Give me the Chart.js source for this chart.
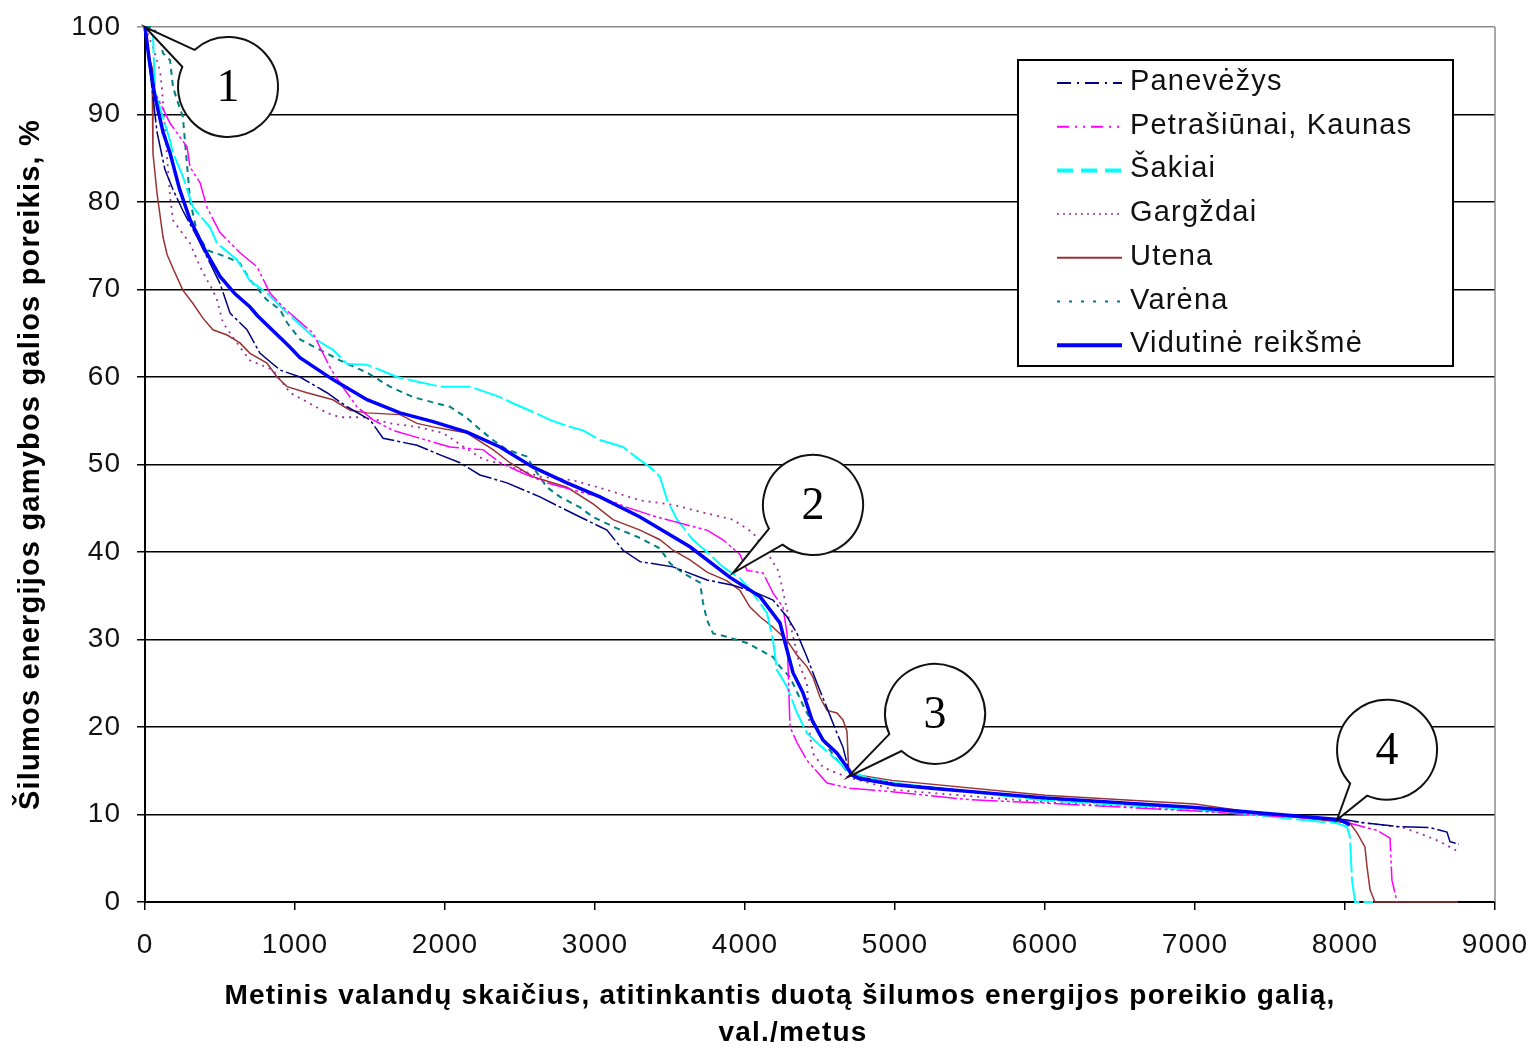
<!DOCTYPE html>
<html>
<head>
<meta charset="utf-8">
<script src="https://cdn.jsdelivr.net/npm/chart.js@4.4.1/dist/chart.umd.min.js"></script>
<style>
  html, body { margin: 0; padding: 0; background: #fff; }
  #wrap { width: 1535px; height: 1048px; }
</style>
</head>
<body>
<div id="wrap"><canvas id="chart"></canvas></div>
<script>
// ===== DATA: [valandos per metus, % nuo maksimalios galios] =====
var panevezys = [[0,100],[40,94],[80,88],[133,83.7],[187,81.4],[253,79],[347,76],[500,70.7],[567,67.3],[680,65.4],[767,62.7],[900,60.8],[1033,60],[1213,58.2],[1347,56.6],[1500,55.1],[1587,53],[1813,52.2],[1967,51.1],[2100,50.2],[2233,48.8],[2413,47.9],[2633,46.3],[2853,44.4],[3080,42.5],[3187,40.2],[3300,38.9],[3520,38.3],[3747,36.8],[3920,36.2],[4080,35.3],[4187,34.5],[4280,32.6],[4347,30.7],[4413,28],[4480,25],[4553,21.9],[4613,19.3],[4653,17.7],[4687,15.4],[4720,14.4],[5000,13.5],[6000,11.8],[7000,10.8],[8000,9.4],[8147,9],[8367,8.6],[8567,8.5],[8680,8],[8700,6.9],[8760,6.6]];
var petrasiunai = [[0,100],[53,93],[167,89],[280,86.3],[300,84],[367,82.2],[413,79.4],[500,76.5],[633,74.2],[747,72.6],[833,69.6],[920,68],[1120,65],[1233,61.1],[1300,59.3],[1413,56.6],[1520,55.1],[1653,53.9],[1813,53.1],[2033,52],[2253,51.7],[2367,50.2],[2520,49],[2680,47.9],[2853,47.1],[3033,46.3],[3213,45.1],[3413,44],[3567,43.3],[3747,42.5],[3853,41.4],[3967,39.7],[4013,37.9],[4120,37.6],[4187,35.3],[4253,33.7],[4280,30.7],[4287,26.9],[4300,20],[4347,18.2],[4413,16.2],[4547,13.6],[4700,13],[4980,12.6],[5493,11.7],[6000,11.3],[7000,10.4],[8000,9.3],[8033,9],[8213,8.2],[8300,7.3],[8313,2.5],[8347,0]];
var sakiai = [[0,100],[53,99.3],[67,92.5],[120,89.7],[167,87],[187,85.6],[253,82.9],[320,79.4],[433,77.1],[480,75.3],[613,73.4],[700,71],[813,69.6],[947,67.3],[1033,66],[1147,64.2],[1253,63.1],[1347,61.5],[1480,61.4],[1567,60.8],[1680,60],[1833,59.4],[1967,58.9],[2167,58.9],[2367,57.7],[2453,57],[2587,56],[2700,55.1],[2813,54.4],[2920,53.9],[3033,52.8],[3187,52],[3300,50.5],[3367,49.7],[3433,48.6],[3480,46],[3547,43.7],[3653,41.4],[3747,40],[3853,38.3],[3967,37],[4053,35.3],[4147,33],[4187,29.9],[4213,26.5],[4280,24.6],[4347,21.6],[4413,19.3],[4480,18.2],[4587,16.6],[4680,15.1],[4813,14.2],[5000,13.6],[6000,11.6],[7000,10.6],[7947,9],[8013,8.6],[8033,7.4],[8047,2.5],[8067,0],[8187,0]];
var gargzdai = [[0,100],[53,97.7],[100,95],[113,93],[167,80.6],[187,77.9],[233,76.8],[300,75.3],[367,72.6],[413,71.1],[453,69.9],[480,68.8],[520,66.2],[633,63.4],[700,61.9],[853,60.8],[967,58.2],[1053,57.4],[1213,55.9],[1300,55.4],[1480,55.4],[1633,54.7],[1813,54.3],[1987,53.6],[2100,52.3],[2253,50.6],[2413,49.9],[2633,48.6],[2853,48.2],[3080,47.1],[3300,45.9],[3520,45.4],[3747,44.4],[3920,43.7],[4053,42.2],[4167,39.4],[4220,37.9],[4247,36],[4280,33.4],[4320,30.4],[4367,26.9],[4413,25],[4433,19],[4453,17],[4520,15.4],[4587,14.9],[4680,14.3],[5000,12.8],[6000,11.4],[7000,10.5],[8000,9.3],[8100,9.1],[8253,8.8],[8387,8.5],[8520,7.7],[8633,6.9],[8740,5.9]];
var utena = [[0,100],[20,97],[47,95.4],[53,85.6],[80,81],[100,78.5],[120,76],[147,74],[187,72.4],[253,69.9],[320,68.4],[387,66.7],[453,65.4],[547,64.8],[633,63.9],[700,62.7],[813,61.6],[880,60],[947,58.9],[1080,58.2],[1253,57.4],[1367,56.2],[1480,55.9],[1700,55.7],[1813,54.7],[1920,54.3],[2147,53.6],[2320,51.7],[2433,50.2],[2587,48.6],[2813,47.4],[2987,45.5],[3120,43.7],[3300,42.5],[3433,41.4],[3520,40.2],[3633,39.1],[3747,37.7],[3880,36.7],[3967,35.6],[4033,33.7],[4100,32.6],[4187,31.4],[4280,29.9],[4347,28.2],[4413,26.9],[4453,25.7],[4500,23.4],[4547,21.9],[4613,21.6],[4653,20.8],[4680,19.5],[4690,15.4],[4720,14.6],[4980,13.9],[6000,12.2],[7000,11.2],[7367,10.3],[8033,9],[8080,7.9],[8133,6.3],[8147,4],[8167,1.4],[8200,0],[8753,0]];
var varena = [[0,100],[53,100],[100,98.5],[120,97],[167,96.2],[187,93.1],[213,91.7],[253,89.7],[260,88.2],[287,82.9],[300,80.2],[347,76.5],[413,74.5],[547,73.7],[633,73],[700,71.1],[813,68.8],[900,67.7],[947,66.2],[1033,64.3],[1167,63.1],[1300,61.9],[1480,60.5],[1633,58.9],[1787,57.7],[1920,57.1],[2033,56.6],[2147,55.3],[2233,54],[2320,52.8],[2413,51.7],[2547,50.9],[2587,49.7],[2680,47.4],[2767,46.3],[2900,45.1],[2987,44],[3147,42.7],[3300,41.6],[3433,40.4],[3500,38.7],[3587,37.6],[3700,36.5],[3720,34.2],[3747,32.2],[3787,30.7],[3880,30.3],[4013,29.6],[4100,28.8],[4187,28],[4233,26.9],[4300,25.7],[4400,22],[4500,19],[4600,16.5],[4700,14.6],[5000,13.5],[6000,11.8],[7000,10.7],[8000,9.3]];
var vidutine = [[0,100],[30,96],[67,92],[120,88],[167,85.6],[230,81.5],[300,78],[400,74.5],[500,71.5],[600,69.5],[700,68],[750,67],[967,63.4],[1033,62.2],[1253,59.7],[1480,57.4],[1700,55.9],[1920,54.9],[2147,53.7],[2367,52],[2587,49.7],[2813,47.9],[3033,46.3],[3300,44],[3633,40.6],[3900,37.1],[4100,34.9],[4233,31.9],[4280,28.8],[4320,26.2],[4387,23.9],[4447,20.8],[4520,18.5],[4613,17],[4680,15.4],[4713,14.5],[4760,14.1],[5000,13.4],[5240,13],[6000,11.9],[7000,10.8],[7700,9.8],[7967,9.4],[8033,8.8]];

var seriesNames = ['Panevėžys', 'Petrašiūnai, Kaunas', 'Šakiai', 'Gargždai', 'Utena', 'Varėna', 'Vidutinė reikšmė'];
var calloutLabels = ['1', '2', '3', '4'];
var calloutTips = [[0, 100], [3920, 37.6], [4687, 14.3], [7947, 9.4]];

var xTitle = ['Metinis valandų skaičius, atitinkantis duotą šilumos energijos poreikio galią,', 'val./metus'];
var yTitle = 'Šilumos energijos gamybos galios poreikis, %';

// ===== STYLES =====
var FONT = '"Liberation Sans", Arial, sans-serif';
var styles = [
  { color: '#000080', width: 1.5, dash: [26, 3, 3, 3], legendDash: [14, 6, 2, 6], legendWidth: 2 },
  { color: '#ff00ff', width: 1.5, dash: [26, 3, 3, 3, 3, 3], legendDash: [12, 6, 2, 6, 2, 6], legendWidth: 2 },
  { color: '#00ffff', width: 2, dash: [30, 4], legendDash: [16, 8], legendWidth: 4 },
  { color: '#993399', width: 1.8, dash: [2, 5], legendDash: [2, 4], legendWidth: 1.5 },
  { color: '#993333', width: 1.5, dash: [], legendDash: [], legendWidth: 2 },
  { color: '#008080', width: 2, dash: [6, 5], legendDash: [3, 9], legendWidth: 2 },
  { color: '#0000ff', width: 3.5, dash: [], legendDash: [], legendWidth: 4 }
];
var seriesData = [panevezys, petrasiunai, sakiai, gargzdai, utena, varena, vidutine];

// callout bubble centre offset from its tip, px
var calloutOffsets = [[83, 60], [80, -68], [87, -63], [50, -70]];

function toXY(pairs) { return pairs.map(function(p) { return { x: p[0], y: p[1] }; }); }

var datasets = seriesData.map(function(d, i) {
  return {
    label: seriesNames[i], data: toXY(d),
    borderColor: styles[i].color, borderWidth: styles[i].width, borderDash: styles[i].dash,
    pointRadius: 0, fill: false, tension: 0, clip: 4, order: i === 6 ? 0 : 1
  };
});

var bubblePlugin = {
  id: 'bubbles',
  beforeDraw: function(chart) { chart.ctx.letterSpacing = '1px'; },
  beforeDatasetsDraw: function(chart) {
    var a = chart.chartArea, ctx = chart.ctx;
    ctx.save();
    ctx.strokeStyle = '#8c8c8c'; ctx.lineWidth = 1.5;
    ctx.beginPath(); ctx.moveTo(a.right, a.top); ctx.lineTo(a.right, a.bottom); ctx.stroke();
    ctx.restore();
  },
  afterDatasetsDraw: function(chart) {
    var ctx = chart.ctx, xs = chart.scales.x, ys = chart.scales.y;
    ctx.save();
    ctx.letterSpacing = '0px';
    calloutTips.forEach(function(t, i) {
      var tx = xs.getPixelForValue(t[0]), ty = ys.getPixelForValue(t[1]);
      var cx = tx + calloutOffsets[i][0], cy = ty + calloutOffsets[i][1], r = 50;
      var ang = Math.atan2(ty - cy, tx - cx), d = 0.21;
      ctx.beginPath();
      ctx.arc(cx, cy, r, ang + d, ang - d + Math.PI * 2);
      ctx.lineTo(tx, ty);
      ctx.closePath();
      ctx.fillStyle = '#fff'; ctx.fill();
      ctx.lineWidth = 2; ctx.strokeStyle = '#111'; ctx.stroke();
      ctx.fillStyle = '#000';
      ctx.font = '46px "Liberation Serif", "Times New Roman", serif';
      ctx.textAlign = 'center'; ctx.textBaseline = 'middle';
      ctx.fillText(calloutLabels[i], cx, cy + 2);
    });
    ctx.restore();
  },
  afterDraw: function(chart) {
    var ctx = chart.ctx, a = chart.chartArea;
    var bx = a.left + 873, by = a.top + 33, bw = 435, bh = 306;
    ctx.save();
    ctx.fillStyle = '#fff'; ctx.fillRect(bx, by, bw, bh);
    ctx.strokeStyle = '#000'; ctx.lineWidth = 2; ctx.setLineDash([]);
    ctx.strokeRect(bx, by, bw, bh);
    ctx.font = '29px ' + FONT; ctx.letterSpacing = '1.2px';
    ctx.textBaseline = 'middle'; ctx.textAlign = 'left'; ctx.fillStyle = '#111';
    seriesNames.forEach(function(n, i) {
      var y = by + 22 + i * 43.7;
      ctx.beginPath();
      ctx.setLineDash(styles[i].legendDash);
      ctx.strokeStyle = styles[i].color; ctx.lineWidth = styles[i].legendWidth;
      ctx.moveTo(bx + 39, y + 1); ctx.lineTo(bx + 104, y + 1); ctx.stroke();
      ctx.setLineDash([]);
      ctx.fillText(n, bx + 112, y);
    });

    // axis titles
    ctx.fillStyle = '#000'; ctx.textAlign = 'center'; ctx.textBaseline = 'middle';
    ctx.font = 'bold 28px ' + FONT; ctx.letterSpacing = '1.2px';
    xTitle.forEach(function(line, i) {
      ctx.fillText(line, a.left + 635 + i * 13, a.bottom + 94 + i * 37);
    });
    ctx.font = 'bold 29px ' + FONT;
    ctx.translate(31, (a.top + a.bottom) / 2);
    ctx.rotate(-Math.PI / 2);
    ctx.fillText(yTitle, 0, 0);
    ctx.restore();
  }
};

new Chart(document.getElementById('chart').getContext('2d'), {
  type: 'line',
  data: { datasets: datasets },
  plugins: [bubblePlugin],
  options: {
    responsive: true, maintainAspectRatio: false, animation: false, devicePixelRatio: 1,
    layout: { padding: { left: 0, right: 40, top: 27, bottom: 0 } },
    plugins: { legend: { display: false }, tooltip: { enabled: false } },
    scales: {
      x: {
        type: 'linear', min: 0, max: 9000,
        ticks: { stepSize: 1000, font: { family: FONT, size: 28 }, color: '#111', padding: 18, maxRotation: 0,
          callback: function(v) { return String(v); } },
        grid: { drawOnChartArea: false, drawTicks: true, tickLength: 8, color: '#000', lineWidth: 1.5 },
        border: { display: true, color: '#000', width: 2 },
        afterFit: function(s) { s.height = 146; s.paddingLeft = 0; s.paddingRight = 0; }
      },
      y: {
        min: 0, max: 100,
        ticks: { stepSize: 10, font: { family: FONT, size: 28, lineHeight: 0.96 }, color: '#111', padding: 16 },
        grid: { color: function(c) { return c.tick && c.tick.value === 100 ? '#8c8c8c' : '#000'; }, lineWidth: 1.5, tickLength: 8 },
        border: { display: true, color: '#000', width: 2 },
        afterFit: function(s) { s.width = 145; s.paddingTop = 0; s.paddingBottom = 0; }
      }
    }
  }
});
</script>
</body>
</html>
